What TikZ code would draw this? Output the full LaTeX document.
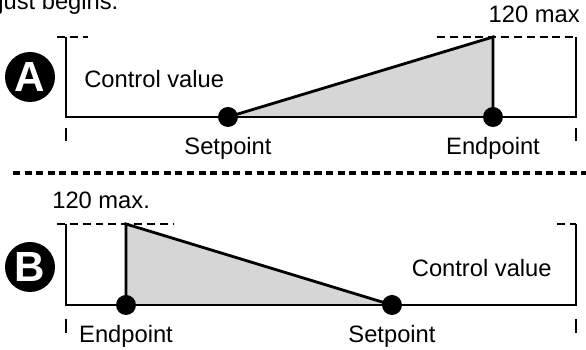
\documentclass[tikz,border=0pt]{standalone}
\usepackage{fontspec}
\setmainfont{Liberation Sans}
\usetikzlibrary{positioning}
\definecolor{FillGray}{HTML}{D6D6D6}
\tikzset{
  ax/.style={line width=1.6pt,line join=miter},
  lim/.style={line width=1.6pt,dash pattern=on 4.5pt off 2.8pt},
  sep/.style={line width=1.9pt,dash pattern=on 4pt off 2.6pt},
  tick/.style={line width=1.6pt},
  pt/.style={circle,fill=black,inner sep=0pt,minimum size=0.4cm},
  badge/.style={circle,fill=black,text=white,inner sep=0pt,minimum size=1cm,
                font=\fontsize{24}{24}\selectfont\bfseries},
  lbl/.style={inner sep=0pt,font=\fontsize{13.5}{15}\selectfont},
}

\begin{document}
\begin{tikzpicture}[x=0.02cm,y=-0.02cm]
  \useasboundingbox (0,0) rectangle (586,350);
  \node[lbl,anchor=base west] (intro) at (-2,10) {just begins.};

  % panel A
  \coordinate (Atl) at (66,37);
  \coordinate (Abl) at (66,117);
  \coordinate (Abr) at (576,117);
  \coordinate (Atr) at (576,37);
  \coordinate (Asetp) at (228,117);
  \coordinate (Aendp) at (493,117);
  \coordinate (Amax) at (493,37);
  \fill[FillGray] (Asetp) -- (Amax) -- (Aendp) -- cycle;
  \draw[ax] (Asetp) -- (Amax) -- (Aendp);
  \draw[ax] (Atl) -- (Abl) -- (Abr) -- (Atr);
  \coordinate (Adl) at (55,37);
  \coordinate (Adr) at (88,37);
  \draw[lim,dash phase=-1.2pt] (Adl) -- (Adr);
  \coordinate (Ael) at (437,37);
  \draw[lim] (Ael) -- (Atr);
  \coordinate (Atkl) at (66,128);
  \coordinate (Atkr) at (576,128);
  \draw[tick] (Atkl) -- ++(0,13);
  \draw[tick] (Atkr) -- ++(0,13);
  \node[pt] (Asp) at (Asetp) {};
  \node[pt] (Aep) at (Aendp) {};
  \node[lbl,below=0.19cm of Asp] (Asplbl) {Setpoint};
  \node[lbl,below=0.19cm of Aep] (Aeplbl) {Endpoint};
  \node[lbl,anchor=base west] (Actl) at (84,88) {Control value};
  \node[lbl,anchor=base east] (Amaxlbl) at (580,23) {120 max};
  \node[badge] (Abadge) at (30,77) {A};

  % separator
  \coordinate (sepl) at (13,173);
  \coordinate (sepr) at (586,173);
  \draw[sep] (sepl) -- (sepr);

  % panel B
  \coordinate (Btl) at (66,224);
  \coordinate (Bbl) at (66,305);
  \coordinate (Bbr) at (576,305);
  \coordinate (Btr) at (576,224);
  \coordinate (Bendp) at (126,305);
  \coordinate (Bsetp) at (392,305);
  \coordinate (Bmax) at (126,224);
  \fill[FillGray] (Bendp) -- (Bmax) -- (Bsetp) -- cycle;
  \draw[ax] (Bendp) -- (Bmax) -- (Bsetp);
  \draw[ax] (Btl) -- (Bbl) -- (Bbr) -- (Btr);
  \coordinate (Bdl) at (55,224);
  \coordinate (Bdr) at (174,224);
  \draw[lim,dash phase=-1.2pt] (Bdl) -- (Bdr);
  \coordinate (Ber) at (555,224);
  \draw[lim,dash phase=-1.2pt] (Ber) -- (Btr);
  \coordinate (Btkl) at (66,319);
  \coordinate (Btkr) at (576,319);
  \draw[tick] (Btkl) -- ++(0,14);
  \draw[tick] (Btkr) -- ++(0,14);
  \node[pt] (Bep) at (Bendp) {};
  \node[pt] (Bsp) at (Bsetp) {};
  \node[lbl,below=0.19cm of Bep] (Beplbl) {Endpoint};
  \node[lbl,below=0.19cm of Bsp] (Bsplbl) {Setpoint};
  \node[lbl,anchor=base east] (Bctl) at (552,277) {Control value};
  \node[lbl,anchor=base west] (Bmaxlbl) at (52,209) {120 max.};
  \node[badge] (Bbadge) at (30,267) {B};
\end{tikzpicture}
\end{document}
